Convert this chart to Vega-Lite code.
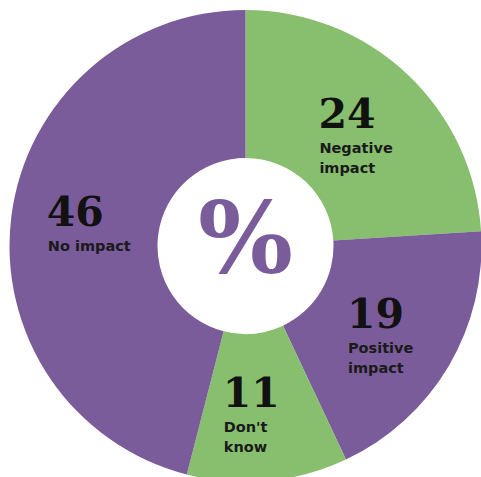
{
  "$schema": "https://vega.github.io/schema/vega-lite/v6.json",
  "autosize": {"type": "fit", "contains": "padding"},
  "width": 481,
  "height": 477,
  "padding": {"left": 10, "top": 15, "right": 0, "bottom": 0},
  "background": "white",
  "view": {"stroke": null},
  "datasets": {
    "slices": [
      {"order": 1, "category": "Negative impact", "value": 24, "label": "Negative\nimpact", "color": "green"},
      {"order": 2, "category": "Positive impact", "value": 19, "label": "Positive\nimpact", "color": "purple"},
      {"order": 3, "category": "Don't know", "value": 11, "label": "Don't\nknow", "color": "green"},
      {"order": 4, "category": "No impact", "value": 46, "label": "No impact", "color": "purple"}
    ],
    "center": [{"symbol": "%"}]
  },
  "layer": [
    {
      "data": {"name": "slices"},
      "mark": {"type": "arc", "outerRadius": 236, "innerRadius": 88},
      "encoding": {
        "theta": {"field": "value", "type": "quantitative", "stack": true},
        "order": {"field": "order", "type": "quantitative"},
        "color": {
          "field": "color",
          "type": "nominal",
          "scale": {"domain": ["green", "purple"], "range": ["#87bf6f", "#7b5c9b"]},
          "legend": null
        }
      }
    },
    {
      "data": {"name": "slices"},
      "mark": {
        "type": "text",
        "radius": 162,
        "align": "left",
        "baseline": "alphabetic",
        "dx": -38,
        "dy": 0,
        "font": "DejaVu Serif",
        "fontWeight": "bold",
        "fontSize": 41,
        "color": "#111111"
      },
      "encoding": {
        "theta": {"field": "value", "type": "quantitative", "stack": true},
        "order": {"field": "order", "type": "quantitative"},
        "text": {"field": "value", "type": "quantitative"}
      }
    },
    {
      "data": {"name": "slices"},
      "mark": {
        "type": "text",
        "radius": 162,
        "align": "left",
        "baseline": "top",
        "dx": -37,
        "dy": 14,
        "lineBreak": "\n",
        "lineHeight": 20,
        "font": "DejaVu Sans",
        "fontWeight": "bold",
        "fontSize": 14.5,
        "color": "#1a1a1a"
      },
      "encoding": {
        "theta": {"field": "value", "type": "quantitative", "stack": true},
        "order": {"field": "order", "type": "quantitative"},
        "text": {"field": "label", "type": "nominal"}
      }
    },
    {
      "data": {"name": "center"},
      "mark": {
        "type": "text",
        "align": "center",
        "baseline": "middle",
        "dy": -3,
        "font": "DejaVu Serif",
        "fontWeight": "bold",
        "fontSize": 100,
        "color": "#7b5c9b"
      },
      "encoding": {
        "theta": {"value": 0},
        "radius": {"value": 0},
        "text": {"field": "symbol", "type": "nominal"}
      }
    }
  ]
}
